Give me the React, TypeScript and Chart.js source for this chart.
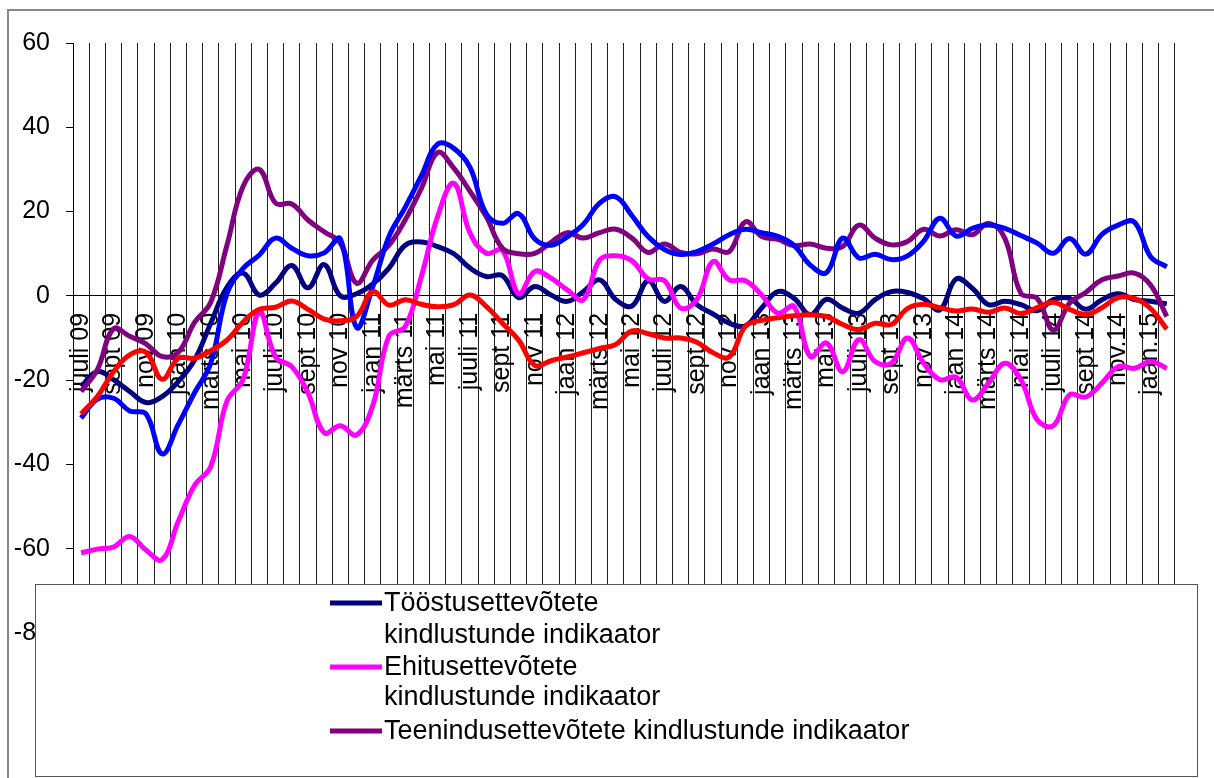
import React, { useEffect, useRef } from 'react';
import { Chart, registerables } from 'chart.js';

Chart.register(...registerables);

const months = [
  'juuli 09', 'aug 09', 'sept 09', 'okt 09', 'nov 09', 'dets 09',
  'jaan 10', 'veebr 10', 'märts 10', 'apr 10', 'mai 10', 'juuni 10', 'juuli 10', 'aug 10', 'sept 10', 'okt 10', 'nov 10', 'dets 10',
  'jaan 11', 'veebr 11', 'märts 11', 'apr 11', 'mai 11', 'juuni 11', 'juuli 11', 'aug 11', 'sept 11', 'okt 11', 'nov 11', 'dets 11',
  'jaan 12', 'veebr 12', 'märts 12', 'apr 12', 'mai 12', 'juuni 12', 'juuli 12', 'aug 12', 'sept 12', 'okt 12', 'nov 12', 'dets 12',
  'jaan 13', 'veebr 13', 'märts 13', 'apr 13', 'mai 13', 'juuni 13', 'juuli 13', 'aug 13', 'sept 13', 'okt 13', 'nov 13', 'dets 13',
  'jaan 14', 'veebr 14', 'märts 14', 'apr 14', 'mai 14', 'juuni 14', 'juuli 14', 'aug 14', 'sept 14', 'okt 14', 'nov.14', 'dets.14',
  'jaan.15', 'veebr.15',
];

// Tööstusettevõtete kindlustunde indikaator
const industry = [
  -21.5, -18.0, -19.9, -22.7, -25.3, -23.9, -20.3, -15.2, -6.5, 2.0,
  5.4, 0.2, 3.0, 7.2, 1.9, 7.4, 0.0, 0.5, 2.8, 6.6,
  12.0, 12.8, 11.7, 10.0, 6.6, 4.6, 4.8, -0.4, 2.2, 0.2,
  -1.3, 1.0, 3.8, -0.9, -2.4, 3.6, -1.3, 2.2, -2.1, -4.3,
  -6.5, -7.1, -2.9, 1.0, -0.6, -4.5, -0.8, -2.9, -4.1, -0.9,
  1.0, 0.8, -0.7, -3.3, 4.0, 1.8, -2.1, -1.3, -2.1, -3.5,
  -0.9, -0.6, -3.2, -0.9, 0.5, -0.9, -1.3, -1.9,
];

// Ehitusettevõtete kindlustunde indikaator
const construction = [
  -61.0, -60.1, -59.6, -57.1, -60.3, -62.6, -53.5, -45.0, -40.5, -25.0,
  -19.8, -3.8, -14.5, -16.8, -23.0, -32.5, -30.8, -33.0, -26.0, -9.5,
  -7.3, 4.6, 18.8, 26.7, 14.9, 10.1, 10.8, 0.5, 5.8, 4.2,
  1.4, -0.9, 8.5, 9.5, 8.3, 4.0, 3.6, -2.9, -0.9, 8.1,
  3.8, 3.6, 0.2, -4.1, -2.5, -14.4, -11.2, -18.0, -10.4, -15.6,
  -16.0, -10.0, -16.0, -19.9, -19.3, -24.7, -20.7, -16.0, -19.9, -29.4,
  -30.8, -23.5, -24.0, -20.7, -16.8, -17.2, -15.6, -17.2,
];

// Teenindusettevõtete kindlustunde indikaator
const services = [
  -22.7, -17.5, -7.8, -9.6, -11.4, -14.4, -13.4, -6.3, -1.5, 12.0,
  26.0, 30.0, 22.0, 21.8, 18.0, 15.2, 12.5, 3.0, 8.5, 12.0,
  18.0, 25.5, 34.0, 30.3, 24.8, 18.8, 11.3, 10.0, 10.1, 12.7,
  15.0, 13.7, 15.0, 15.8, 13.7, 10.3, 12.3, 10.3, 10.0, 11.1,
  10.5, 17.6, 14.1, 13.4, 11.9, 12.3, 11.3, 11.7, 16.8, 13.7,
  12.1, 12.9, 15.8, 14.2, 15.7, 14.5, 17.2, 13.7, 0.6, -0.6,
  -8.1, -1.7, 0.8, 3.8, 4.7, 5.4, 2.6, -4.9,
];

// Jaekaubandusettevõtete kindlustunde indikaator
const retail = [
  -29.0, -24.5, -24.3, -27.3, -28.0, -37.5, -30.5, -23.0, -16.0, 0.5,
  6.5, 9.7, 13.7, 11.3, 9.5, 10.2, 13.5, -7.5, 2.2, 14.1,
  21.0, 28.5, 36.0, 35.0, 30.5, 19.5, 17.2, 19.5, 13.5, 12.0,
  14.0, 17.0, 22.0, 23.5, 19.0, 14.0, 11.0, 9.8, 10.5, 12.3,
  14.5, 15.8, 15.0, 14.1, 12.0, 7.3, 5.5, 13.7, 9.0, 9.9,
  8.6, 9.5, 13.0, 18.4, 14.2, 16.0, 16.8, 16.0, 14.3, 12.5,
  10.1, 13.6, 9.9, 14.6, 16.8, 17.5, 9.3, 6.9,
];

// Tarbijate kindlustunde indikaator
const consumer = [
  -28.0, -23.9, -18.0, -14.0, -13.4, -19.8, -14.8, -14.8, -13.0, -10.5,
  -6.2, -3.2, -2.7, -1.2, -3.2, -5.5, -5.9, -4.9, 1.0, -2.2,
  -0.9, -2.0, -2.6, -2.1, 0.2, -2.5, -6.5, -10.5, -16.5, -15.4,
  -14.5, -13.5, -12.5, -11.5, -8.3, -9.0, -10.0, -10.0, -11.0, -13.5,
  -14.5, -7.2, -5.8, -5.2, -4.7, -4.5, -4.9, -6.8, -8.0, -6.5,
  -6.8, -3.0, -2.0, -2.8, -3.6, -3.1, -3.9, -2.9, -4.2, -2.8,
  -1.5, -3.2, -4.4, -2.8, -0.4, -0.6, -3.0, -7.9,
];

const seriesNames = [
  'Tööstusettevõtete kindlustunde indikaator',
  'Ehitusettevõtete kindlustunde indikaator',
  'Teenindusettevõtete kindlustunde indikaator',
  'Jaekaubandusettevõtete kindlustunde indikaator',
  'Tarbijate kindlustunde indikaator',
];
const seriesColors = ['#000080', '#FF00FF', '#800080', '#0000FF', '#FF0000'];

// legend text (as wrapped in the original)
const legendLines = [
  ['Tööstusettevõtete', 'kindlustunde indikaator'],
  ['Ehitusettevõtete', 'kindlustunde indikaator'],
  ['Teenindusettevõtete kindlustunde indikaator'],
];

const FONT = '"Liberation Sans", Arial, sans-serif';

const framePlugin = {
  id: 'frame',
  afterDraw(chart: any) {
    const ctx = chart.ctx as CanvasRenderingContext2D;
    ctx.save();
    // outer chart border
    ctx.strokeStyle = '#888888';
    ctx.lineWidth = 2;
    ctx.beginPath();
    ctx.moveTo(8, 778);
    ctx.lineTo(8, 10);
    ctx.lineTo(1214, 10);
    ctx.stroke();

    // legend box
    ctx.fillStyle = '#ffffff';
    ctx.fillRect(35, 584, 1163, 194);
    ctx.strokeStyle = '#555555';
    ctx.lineWidth = 1;
    ctx.strokeRect(35.5, 584.5, 1162, 192);

    const rowY = [[603, 635], [667, 697], [731]];
    ctx.font = `27px ${FONT}`;
    ctx.fillStyle = '#000';
    ctx.textBaseline = 'middle';
    ctx.textAlign = 'left';
    legendLines.forEach((lines, k) => {
      ctx.strokeStyle = seriesColors[k];
      ctx.lineWidth = 5;
      ctx.beginPath();
      ctx.moveTo(330, rowY[k][0]);
      ctx.lineTo(382, rowY[k][0]);
      ctx.stroke();
      lines.forEach((t, j) => {
        ctx.fillText(t, 384, rowY[k][j] + 1);
      });
    });
    ctx.restore();
  },
};

export default function App() {
  const ref = useRef<HTMLCanvasElement>(null);
  useEffect(() => {
    const values = [industry, construction, services, retail, consumer];
    const chart = new Chart(ref.current as HTMLCanvasElement, {
      type: 'line',
      data: {
        labels: months,
        datasets: values.map((v, k) => ({
          label: seriesNames[k],
          data: v,
          borderColor: seriesColors[k],
          backgroundColor: seriesColors[k],
          borderWidth: 5,
          pointRadius: 0,
          tension: 0.4,
          fill: false,
          order: 5 - k,
        })),
      },
      options: {
        animation: false,
        responsive: false,
        devicePixelRatio: 1,
        layout: { padding: { left: 13, top: 43, right: 31, bottom: 145 } },
        plugins: { legend: { display: false }, tooltip: { enabled: false } },
        scales: {
          x: {
            type: 'category',
            position: { y: 0 } as any,
            offset: true,
            grid: { display: true, offset: true, color: '#222222', lineWidth: 1, drawTicks: false, drawOnChartArea: true },
            border: { display: true, color: '#000', width: 1 },
            ticks: {
              autoSkip: false,
              minRotation: 90,
              maxRotation: 90,
              padding: 17,
              color: '#000',
              font: { family: FONT, size: 25 },
              callback: (_v: any, i: number) => (i % 2 === 0 ? months[i] : ''),
            },
          },
          y: {
            min: -80,
            max: 60,
            ticks: { stepSize: 20, padding: 16, color: '#000', font: { family: FONT, size: 25 } },
            grid: { drawOnChartArea: false, drawTicks: true, tickLength: 7, color: '#000' },
            border: { display: true, color: '#000', width: 1 },
            afterFit: (s: any) => { s.width = 60; },
          },
        },
      },
      plugins: [framePlugin],
    });
    return () => chart.destroy();
  }, []);
  return (
    <div style={{ position: 'fixed', left: 0, top: 0, width: 1214, height: 778, background: '#fff' }}>
      <canvas ref={ref} width={1214} height={778} style={{ width: 1214, height: 778, display: 'block' }} />
    </div>
  );
}
